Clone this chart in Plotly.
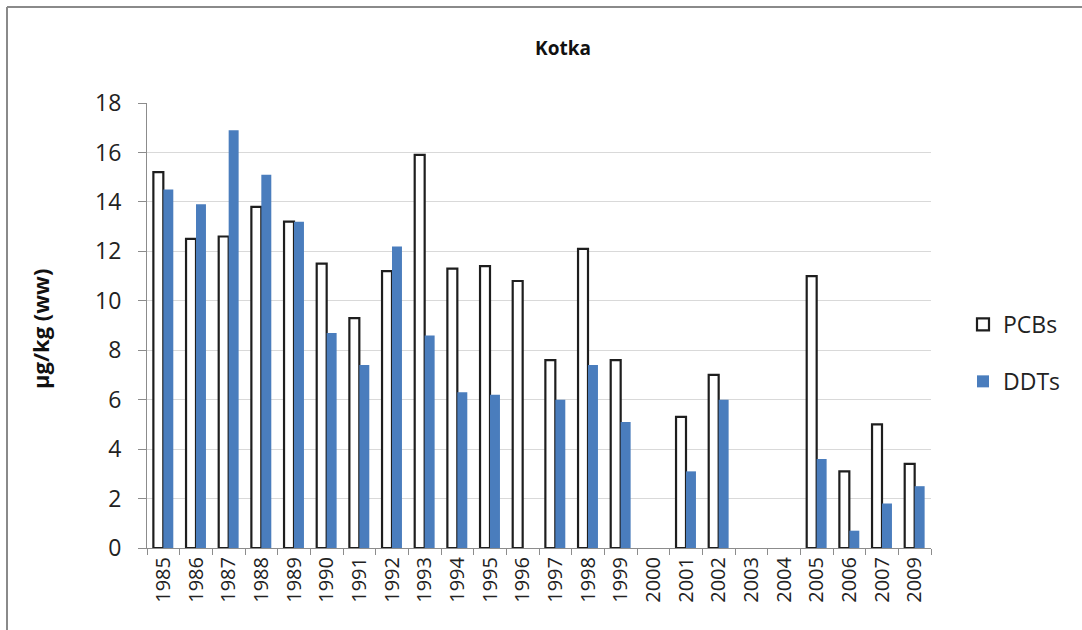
import plotly.graph_objects as go

years = ["1985", "1986", "1987", "1988", "1989", "1990", "1991", "1992", "1993",
         "1994", "1995", "1996", "1997", "1998", "1999", "2000", "2001", "2002",
         "2003", "2004", "2005", "2006", "2007", "2009"]
pcbs = [15.2, 12.5, 12.6, 13.8, 13.2, 11.5, 9.3, 11.2, 15.9,
        11.3, 11.4, 10.8, 7.6, 12.1, 7.6, None, 5.3, 7.0,
        None, None, 11.0, 3.1, 5.0, 3.4]
ddts = [14.5, 13.9, 16.9, 15.1, 13.2, 8.7, 7.4, 12.2, 8.6,
        6.3, 6.2, None, 6.0, 7.4, 5.1, None, 3.1, 6.0,
        None, None, 3.6, 0.7, 1.8, 2.5]

W, H = 1082, 630
L, R, T, B = 147, 931, 103, 548
pw, ph = R - L, B - T

def px_x(p):
    return (p - L) / pw

def px_y(p):
    return (B - p) / ph

FONT = "Open Sans"

fig = go.Figure()
fig.add_trace(go.Bar(
    x=years, y=pcbs, name="PCBs", legendgroup="a",
    marker=dict(color="white", line=dict(color="#1e1e1e", width=2.2)),
))
fig.add_trace(go.Bar(
    x=years, y=ddts, name="DDTs", legendgroup="b",
    marker=dict(color="#4a7dbd", line=dict(color="#4a7dbd", width=0)),
))

fig.update_layout(
    width=W, height=H,
    margin=dict(l=L, r=W - R, t=T, b=H - B),
    paper_bgcolor="white", plot_bgcolor="white",
    barmode="group", bargap=0.39, bargroupgap=0,
    font=dict(family=FONT, color="#222222"),
    title=dict(text="<b>Kotka</b>", x=563 / W, xref="container", xanchor="center",
               y=1 - 48 / H, yref="container", yanchor="middle",
               font=dict(size=19, family=FONT, color="#111111")),
    showlegend=True,
    legend=dict(x=px_x(963), y=px_y(353), xanchor="left", yanchor="middle",
                font=dict(size=23, family=FONT, color="#222222"),
                tracegroupgap=24, bgcolor="rgba(0,0,0,0)"),
    xaxis=dict(type="category", showgrid=False, showline=True, linecolor="#8c8c8c",
               linewidth=1, ticks="outside", tickson="boundaries", ticklen=6,
               tickcolor="#8c8c8c", tickangle=-90,
               tickfont=dict(size=20, family=FONT, color="#222222")),
    yaxis=dict(range=[0, 18], dtick=2, showgrid=True, gridcolor="#d9d9d9", gridwidth=1,
               showline=True, linecolor="#8c8c8c", linewidth=1, ticks="outside",
               ticklen=8, tickcolor="#8c8c8c", ticklabelstandoff=12,
               tickfont=dict(size=23, family=FONT, color="#222222"), zeroline=False),
    annotations=[dict(text="<b>µg/kg (ww)</b>", textangle=-90, xref="paper", yref="paper",
                      x=px_x(40), y=px_y(329), showarrow=False, xanchor="center",
                      yanchor="middle", font=dict(size=22, family=FONT, color="#111111"))],
    shapes=[
        dict(type="line", xref="paper", yref="paper", x0=px_x(7), x1=px_x(7),
             y0=px_y(640), y1=px_y(7), line=dict(color="#8a8a8a", width=2)),
        dict(type="line", xref="paper", yref="paper", x0=px_x(7), x1=px_x(1090),
             y0=px_y(7), y1=px_y(7), line=dict(color="#8a8a8a", width=2)),
    ],
)

fig.write_html("out.html", config={"displayModeBar": False},
               post_script="document.body.style.margin='0';")
